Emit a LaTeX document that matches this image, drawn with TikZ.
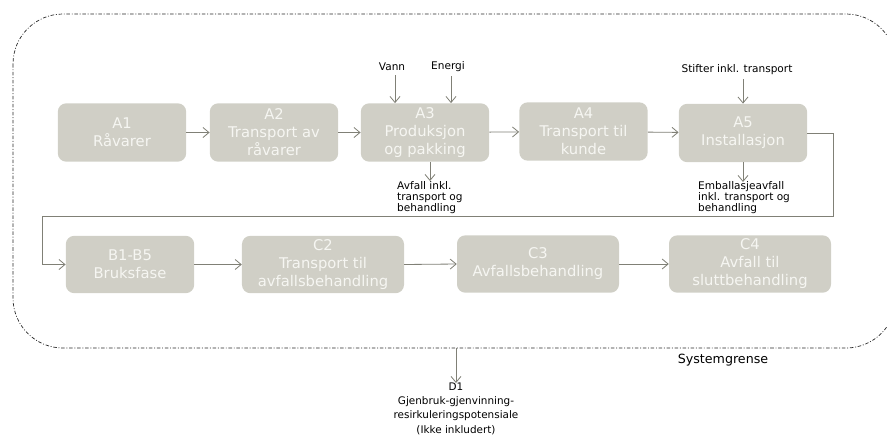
\documentclass[tikz,border=0pt]{standalone}
\usepackage{fontspec}
\setmainfont{DejaVu Sans}
\usepackage{xcolor}
\definecolor{lcabox}{RGB}{208,207,198}
\definecolor{lcatext}{RGB}{246,246,242}
\definecolor{lcaarrow}{RGB}{128,128,118}
\definecolor{lcaline}{RGB}{40,40,40}
\usetikzlibrary{arrows.meta,positioning,calc}
\tikzset{
  box/.style={fill=lcabox,rounded corners=0.25cm,align=center,inner sep=0pt,text=lcatext,
    minimum width=3.85cm,minimum height=1.75cm,font=\fontsize{12.6}{15.4}\selectfont},
  wbox/.style={box,minimum width=4.86cm,minimum height=1.72cm},
  lab/.style={align=left,inner sep=0pt,font=\fontsize{9}{9.6}\selectfont,text=black},
  clab/.style={align=center,inner sep=0pt,font=\fontsize{8.9}{12}\selectfont,text=black},
  arr/.style={-{Straight Barb[length=1.8mm,width=3mm]},line width=0.7pt,draw=lcaarrow},
  sysline/.style={draw=lcaline,line width=0.6pt,dash pattern=on 3pt off 1.5pt on 0.8pt off 1.5pt},
}

\begin{document}
\begin{tikzpicture}[x=0.03cm,y=-0.03cm]
    \useasboundingbox (0,0) rectangle (887,439);
    % system boundary
    \begin{scope}
      \clip (0,0) rectangle (887,439);
      \draw[sysline,rounded corners=1.5cm] (13,14) rectangle (896,348);
    \end{scope}
    \coordinate (sysbottom) at (456,348);
    \node[clab,font=\fontsize{10.8}{12}\selectfont] (sys) at (723,360) {Systemgrense};

    % A stages
    \node[box] (a1) at (122,132.5) {A1\\Råvarer};
    \node[box] (a2) at (274,132.5) {A2\\Transport av\\råvarer};
    \node[box] (a3) at (425,132.5) {A3\\Produksjon\\og pakking};
    \node[box] (a4) at (583.5,131.5) {A4\\Transport til\\kunde};
    \node[box] (a5) at (743,133) {A5\\Installasjon};

    % B and C stages
    \node[box,minimum height=1.72cm] (b1) at (130,264.5) {B1-B5\\Bruksfase};
    \node[wbox] (c2) at (323,264.5) {C2\\Transport til\\avfallsbehandling};
    \node[wbox] (c3) at (538,264) {C3\\Avfallsbehandling};
    \node[wbox] (c4) at (750,264) {C4\\Avfall til\\sluttbehandling};

    % inputs and outputs
    \node[lab] (vann) at (392,67) {Vann};
    \node[lab] (energi) at (448,67) {Energi};
    \node[lab] (stifter) at (737,70) {Stifter inkl. transport};
    \node[lab,anchor=north west] (avfall) at (397,181) {Avfall inkl.\\transport og\\behandling};
    \node[lab,anchor=north west] (emb) at (698,181) {Emballasjeavfall\\inkl. transport og\\behandling};
    \node[clab,anchor=north] (d1) at (456,383) {D1\\Gjenbruk-gjenvinning-\\resirkuleringspotensiale\\(Ikke inkludert)};

    \draw[arr] (vann.south -| 395,0) ++(0,4) -- (a3.north -| 395,0);
    \draw[arr] (energi.south -| 451,0) ++(0,4) -- (a3.north -| 451,0);
    \draw[arr] (stifter.south -| 743,0) ++(0,4) -- (a5.north);
    \draw[arr] (a3.south -| 430,0) -- (avfall.north -| 430,0);
    \draw[arr] (a5.south) -- ($(emb.north -| a5.south)+(0,1)$);

    % main flow
    \draw[arr] (a1) -- (a2);
    \draw[arr] (a2) -- (a3);
    \draw[arr] (a3) -- (a4);
    \draw[arr] (a4) -- (a5);
    \coordinate (turnR) at (833,216);
    \coordinate (turnL) at (42,216);
    \draw[arr] (a5.east) -| (turnR) -- (turnL) |- (b1.west);
    \draw[arr] (b1) -- (c2);
    \draw[arr] (c2.east) -- (c3.west);
    \draw[arr] (c3) -- (c4);
    \draw[arr] (sysbottom) -- (d1.north);
\end{tikzpicture}
\end{document}
